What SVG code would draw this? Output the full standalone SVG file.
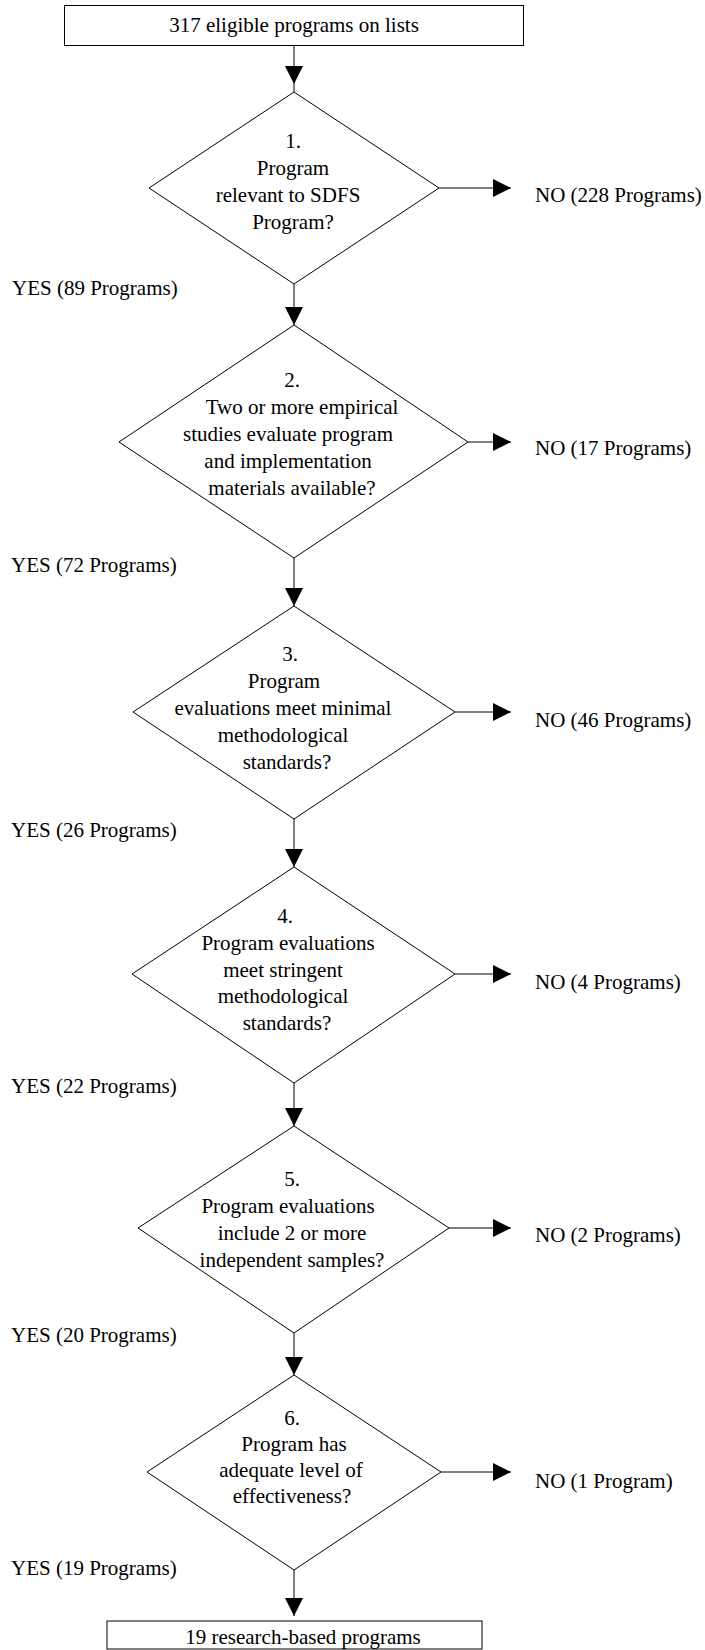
<svg xmlns="http://www.w3.org/2000/svg" width="705" height="1650" viewBox="0 0 705 1650">
<style>
text{font-family:"Liberation Serif","Times New Roman",serif;font-size:21px;fill:#000}
.c{text-anchor:middle}
.box,.dia{fill:#fff;stroke:#000;stroke-width:1}
.con line{stroke:#000;stroke-width:1;fill:none}
</style>
<defs>
<marker id="ah" markerUnits="userSpaceOnUse" markerWidth="18" markerHeight="18" viewBox="0 0 17 17" refX="17" refY="8.5" orient="auto">
<path d="M0,0 L17,8.5 L0,17 Z" fill="#000"/>
</marker>
</defs>
<rect width="705" height="1650" fill="#fff"/>

<g id="connectors" class="con">
<line x1="294" y1="46" x2="294" y2="84" marker-end="url(#ah)"/>
<line x1="294" y1="84" x2="294" y2="92"/>
<line x1="439" y1="188" x2="511" y2="188" marker-end="url(#ah)"/>
<line x1="294" y1="284" x2="294" y2="325" marker-end="url(#ah)"/>
<line x1="468" y1="442" x2="511" y2="442" marker-end="url(#ah)"/>
<line x1="294" y1="558" x2="294" y2="606" marker-end="url(#ah)"/>
<line x1="455" y1="712" x2="511" y2="712" marker-end="url(#ah)"/>
<line x1="294" y1="819" x2="294" y2="867" marker-end="url(#ah)"/>
<line x1="455" y1="974" x2="511" y2="974" marker-end="url(#ah)"/>
<line x1="294" y1="1083" x2="294" y2="1126" marker-end="url(#ah)"/>
<line x1="449" y1="1228" x2="511" y2="1228" marker-end="url(#ah)"/>
<line x1="294" y1="1333" x2="294" y2="1375" marker-end="url(#ah)"/>
<line x1="441" y1="1472" x2="511" y2="1472" marker-end="url(#ah)"/>
<line x1="294" y1="1570" x2="294" y2="1616" marker-end="url(#ah)"/>
</g>

<g id="start">
<rect class="box" x="64.5" y="5.5" width="459" height="40"/>
<text class="c" x="294" y="32">317 eligible programs on lists</text>
</g>

<g id="d1">
<polygon class="dia" points="294,92 439,188 294,284 149,188"/>
<text class="c" x="293" y="148">1.</text>
<text class="c" x="293" y="175">Program</text>
<text class="c" x="288" y="202">relevant to SDFS</text>
<text class="c" x="293" y="229">Program?</text>
</g>

<g id="d2">
<polygon class="dia" points="294,325 468,442 294,558 119,442"/>
<text class="c" x="292" y="387">2.</text>
<text class="c" x="302" y="414">Two or more empirical</text>
<text class="c" x="288" y="441">studies evaluate program</text>
<text class="c" x="288" y="468">and implementation</text>
<text class="c" x="292" y="495">materials available?</text>
</g>

<g id="d3">
<polygon class="dia" points="294,606 455,712 294,819 133,712"/>
<text class="c" x="290" y="661">3.</text>
<text class="c" x="284" y="688">Program</text>
<text class="c" x="283" y="715">evaluations meet minimal</text>
<text class="c" x="283" y="742">methodological</text>
<text class="c" x="287" y="769">standards?</text>
</g>

<g id="d4">
<polygon class="dia" points="294,867 455,974 294,1083 132,974"/>
<text class="c" x="285" y="923">4.</text>
<text class="c" x="288" y="950">Program evaluations</text>
<text class="c" x="283" y="977">meet stringent</text>
<text class="c" x="283" y="1003">methodological</text>
<text class="c" x="287" y="1030">standards?</text>
</g>

<g id="d5">
<polygon class="dia" points="294,1126 449,1228 294,1333 138,1228"/>
<text class="c" x="292" y="1186">5.</text>
<text class="c" x="288" y="1213">Program evaluations</text>
<text class="c" x="292" y="1240">include 2 or more</text>
<text class="c" x="292" y="1267">independent samples?</text>
</g>

<g id="d6">
<polygon class="dia" points="294,1375 441,1472 294,1570 147,1472"/>
<text class="c" x="292" y="1425">6.</text>
<text class="c" x="294" y="1451">Program has</text>
<text class="c" x="291" y="1477">adequate level of</text>
<text class="c" x="292" y="1503">effectiveness?</text>
</g>

<g id="end">
<rect class="box" x="107" y="1621" width="375" height="28"/>
<text class="c" x="303" y="1644">19 research-based programs</text>
</g>

<g id="labels">
<text x="535" y="202">NO (228 Programs)</text>
<text x="535" y="455">NO (17 Programs)</text>
<text x="535" y="727">NO (46 Programs)</text>
<text x="535" y="989">NO (4 Programs)</text>
<text x="535" y="1242">NO (2 Programs)</text>
<text x="535" y="1488">NO (1 Program)</text>
<text x="12" y="295">YES (89 Programs)</text>
<text x="11" y="572">YES (72 Programs)</text>
<text x="11" y="837">YES (26 Programs)</text>
<text x="11" y="1093">YES (22 Programs)</text>
<text x="11" y="1342">YES (20 Programs)</text>
<text x="11" y="1575">YES (19 Programs)</text>
</g>
</svg>
